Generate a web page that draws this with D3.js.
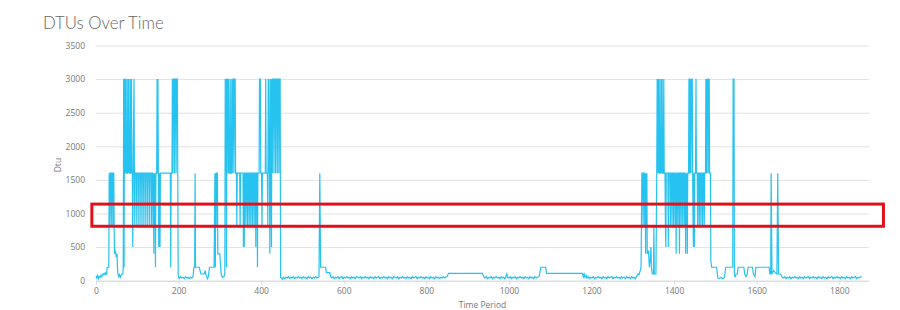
<!DOCTYPE html>
<html>
<head>
<meta charset="utf-8">
<script src="https://cdn.jsdelivr.net/npm/d3@7"></script>
<style>
  body { margin: 0; background: #fff; }
  #chart { font-family: "Open Sans", "Noto Sans", sans-serif; }
</style>
</head>
<body>
<div id="chart"></div>
<script>
// x ticks / y ticks
var xTicks = [0, 200, 400, 600, 800, 1000, 1200, 1400, 1600, 1800];
var yTicks = [0, 500, 1000, 1500, 2000, 2500, 3000, 3500];

// [time period, dtu] change points
var burstA = [
  [0,70],[2,40],[4,90],[6,30],[8,60],[10,50],[12,80],[14,60],[16,100],[18,90],[20,110],[22,90],[24,120],[26,100],[27,200],[31,200],
  [32,1600],[33,800],[34,1600],[36,1600],[37,800],[38,1600],[40,1600],[41,800],[42,1600],[43,1600],[44,800],
  [45,400],[47,450],[49,350],[51,400],[52,200],[53,100],[55,60],[57,90],[59,50],[61,80],[63,100],[65,100],
  [66,200],[67,3000],[68,200],[69,3000],[70,3000],[71,1600],[73,3000],[74,1600],[76,1600],[77,3000],[78,1600],[80,3000],[81,1600],
  [83,1600],[84,3000],[85,1600],[86,3000],[87,1600],[88,1600],[89,500],[90,1600],[92,3000],[93,1600],
  [94,800],[95,1600],[98,1600],[99,800],[100,1600],[103,1600],[104,800],[105,1600],[108,1600],[109,800],[110,1600],
  [113,1600],[114,800],[115,1600],[118,1600],[119,800],[120,1600],[123,1600],[124,800],[125,1600],[128,1600],[129,800],
  [130,1600],[133,1600],[134,800],[135,1600],[137,1600],[138,800],[139,1600],[140,400],[141,1600],[142,800],[143,1600],
  [144,200],[145,1600],[147,1600],[148,3000],[149,1600],
  [150,3000],[151,1600],[152,500],[153,1600],[155,500],[156,1600],[158,1600],[180,1600],[181,200],[182,1600],[184,1600],
  [185,3000],[186,1600],[187,3000],[189,3000],[190,1600],[191,3000],[193,3000],[194,1600],[195,3000],[197,3000],[198,1600],[199,100],
  [200,50],[202,30],[205,60],[208,40],[211,50],[214,30],[217,60],[220,40],[223,50],[226,30],[229,50],[232,40],[235,60],[237,200],
  [239,200],[240,1600],[241,200],[250,200],[252,150],[254,100],[262,100],[264,150],[266,100],[268,60],[270,30],[272,60],[275,200],
  [286,200],[288,1600],[289,200],[290,1600],[291,800],[292,1600],[294,1600],[295,400],[300,400],[303,100],[306,50],[310,60],[312,100],
  [313,3000],[314,1600],[315,3000],[316,200],[317,3000],[319,3000],[320,1600],[321,3000],[322,1600],[324,1600],[325,3000],[326,1600],
  [328,1600],[329,3000],[330,1600],[332,3000],[333,3000],[334,1600],[335,3000],[337,3000],[338,1600],[340,1600],[341,800],[342,1600],
  [348,1600],[349,800],[350,1600],[356,1600],[357,500],[358,1600],[359,500],[360,1600],[362,1600],[363,800],[364,1600],
  [366,1600],[367,800],[368,1600],[370,1600],[371,800],[372,1600],[374,1600],[375,800],[376,1600],[378,1600],[379,800],
  [380,1600],[382,1600],[383,800],[384,1600],[386,1600],[387,500],[388,1600],[390,1600],
  [391,200],[392,1600],[395,1600],[396,3000],[398,3000],[399,1600],[401,1600],[402,800],[403,1600],[410,1600],[411,3000],[412,1600],
  [415,1600],[416,800],[417,3000],[418,1600],[419,3000],[420,1600],[421,400],[422,1600],[423,3000],[424,1600],[425,500],[426,3000],
  [427,1600],[428,3000],[430,3000],[431,1600],[432,3000],[434,3000],[435,1600],[436,3000],[438,3000],[439,1600],[440,3000],[442,3000],
  [443,1600],[444,3000],[446,3000],[447,50]
];

var quietA = [
  [449,40],[451,20],[454,50],[457,30],[460,50],[463,40],[466,60],[469,30],[472,50],[475,40],[478,60],[481,30],[484,50],[487,40],
  [490,60],[493,40],[496,50],[499,30],[502,60],[505,40],[508,50],[511,30],[514,60],[517,40],[520,50],[523,30],[526,50],[529,40],
  [532,60],[535,40],[538,50],[540,60],[542,1600],[544,200],[556,200],[558,120],[566,120],[569,50],
  [571,40],[574,60],[577,30],[580,50],[583,40],[586,60],[589,30],[592,50],[595,60],[598,30],[601,50],[604,40],[607,60],[610,40],
  [613,50],[616,30],[619,60],[622,40],[625,50],[628,30],[631,60],[634,50],[637,40],[640,60],[643,30],[646,50],[649,40],[652,60],
  [655,40],[658,50],[661,30],[664,60],[667,40],[670,50],[673,30],[676,60],[679,40],[682,50],[685,60],[688,30],[691,50],[694,40],
  [697,60],[700,40],[703,50],[706,30],[709,60],[712,40],[715,50],[718,30],[721,60],[724,50],[727,40],[730,60],[733,30],[736,50],
  [739,40],[742,60],[745,40],[748,50],[751,30],[754,60],[757,40],[760,50],[763,30],[766,60],[769,40],[772,50],[775,60],[778,30],
  [781,50],[784,40],[787,60],[790,40],[793,50],[796,30],[799,60],[802,40],[805,50],[808,30],[811,60],[814,40],[817,50],[820,30],
  [823,60],[826,40],[829,50],[832,30],[835,50],[838,40],[841,60],[844,40],[847,50],[850,60],[854,110],[936,110],[939,60],
  [942,40],[945,60],[948,30],[951,50],[954,40],[957,60],[960,30],[963,50],[966,40],[969,60],[972,40],[975,50],[978,30],[981,60],
  [984,40],[987,50],[990,30],[993,60],[995,100],[997,50],[1000,40],[1003,60],[1006,30],[1009,50],[1012,40],[1015,60],[1018,30],
  [1021,50],[1024,40],[1027,60],[1030,40],[1033,50],[1036,30],[1039,60],[1042,40],[1045,50],[1048,30],[1051,60],[1054,40],[1057,50],
  [1060,30],[1063,60],[1066,40],[1069,50],[1072,60],[1074,80],[1077,200],[1089,200],[1091,110],[1178,110],[1180,60],[1182,100],
  [1184,50],[1187,80],[1189,40],[1192,60],[1195,30],[1198,50],[1201,40],[1204,60],[1207,30],[1210,50],[1213,40],[1216,60],[1219,40],
  [1222,50],[1225,30],[1228,60],[1231,40],[1234,50],[1237,30],[1240,60],[1243,40],[1246,50],[1249,60],[1252,30],[1255,50],[1258,40],
  [1261,60],[1264,40],[1267,50],[1270,30],[1273,60],[1276,40],[1279,50],[1282,30],[1285,60],[1288,40],[1291,50],[1294,30],[1297,60],
  [1300,40],[1303,50],[1306,30],[1309,60],[1312,100],[1315,90],[1318,150],[1320,200]
];

var burstB = [
  [1322,1600],[1324,1600],[1325,800],[1326,1600],[1328,1600],[1329,800],[1330,1600],[1331,400],[1332,1600],
  [1333,800],[1334,1600],[1335,400],[1338,450],[1340,200],[1342,300],[1344,500],[1345,200],[1347,100],[1350,100],[1351,800],
  [1352,100],[1356,100],[1358,1600],[1359,3000],[1360,1600],[1361,3000],[1362,1600],[1364,3000],[1365,1600],[1367,1600],[1368,3000],
  [1369,1600],[1371,3000],[1372,1600],[1374,1600],[1375,3000],[1376,1600],[1378,1600],[1379,800],[1380,500],[1381,1600],[1385,1600],
  [1386,500],[1387,1600],[1390,1600],[1391,800],[1392,1600],[1394,1600],[1395,800],[1396,1600],[1398,1600],[1399,800],
  [1400,1600],[1402,1600],[1403,800],[1404,1600],[1405,400],[1406,1600],[1408,1600],[1409,800],
  [1410,1600],[1412,1600],[1413,400],[1414,1600],[1416,1600],[1417,800],[1418,1600],[1420,1600],
  [1421,800],[1422,1600],[1424,1600],[1425,800],[1426,1600],[1427,1600],[1428,400],[1429,1600],[1430,800],[1431,1600],
  [1432,400],[1433,1600],[1435,1600],[1436,3000],[1437,3000],[1438,1600],[1440,3000],[1441,1600],[1442,3000],[1444,3000],[1445,1600],
  [1446,800],[1447,500],[1448,1600],[1449,500],[1450,1600],[1452,1600],[1453,3000],[1454,1600],[1456,1600],[1457,800],[1458,1600],
  [1460,1600],[1461,800],[1462,1600],[1464,1600],[1465,800],[1466,1600],[1468,1600],[1469,800],
  [1470,1600],[1472,1600],[1473,800],[1474,1600],[1476,1600],[1477,3000],[1478,1600],[1479,3000],[1480,1600],[1481,3000],[1483,3000],
  [1484,1600],[1485,3000],[1486,1600],[1488,1600],[1489,300],[1491,200],[1503,200]
];

var quietB = [
  [1506,40],[1510,30],[1514,50],[1518,30],[1522,50],[1525,200],[1542,200],[1543,3000],[1545,3000],[1546,100],[1548,50],[1550,100],
  [1553,100],[1555,200],[1569,200],[1571,100],[1574,60],[1577,100],[1579,200],[1590,200],[1592,100],[1596,60],[1598,200],[1630,200],
  [1632,100],[1634,100],[1635,1600],[1637,100],[1641,150],[1645,120],[1649,100],[1651,1600],[1653,100],[1658,100],[1662,50],
  [1665,40],[1668,60],[1671,30],[1674,50],[1677,40],[1680,60],[1683,30],[1686,50],[1689,40],[1692,60],[1695,40],[1698,50],[1701,30],
  [1704,60],[1707,40],[1710,50],[1713,30],[1716,60],[1719,40],[1722,50],[1725,60],[1728,30],[1731,50],[1734,40],[1737,60],[1740,40],
  [1743,50],[1746,30],[1749,60],[1752,40],[1755,50],[1758,30],[1761,60],[1764,40],[1767,50],[1770,30],[1773,60],[1776,40],[1779,50],
  [1782,60],[1785,30],[1788,50],[1791,40],[1794,60],[1797,40],[1800,50],[1803,30],[1806,60],[1809,40],[1812,50],[1815,30],[1818,60],
  [1821,40],[1824,50],[1827,30],[1830,60],[1833,40],[1836,50],[1839,60],[1842,30],[1845,50],[1848,40],[1851,60],[1854,50]
];

// highlighted band drawn over the chart (time range, dtu range)
var highlightBox = { x0: -10, x1: 1907, y0: 810, y1: 1140 };

var width = 900, height = 310;
var margin = { top: 45.5, right: 31, bottom: 29.3, left: 96 };

var svg = d3.select("#chart").append("svg")
    .attr("width", width)
    .attr("height", height);

var x = d3.scaleLinear()
    .domain([0, 1872])
    .range([margin.left, width - margin.right]);

var y = d3.scaleLinear()
    .domain([0, 3500])
    .range([height - margin.bottom, margin.top]);

// title
svg.append("text")
    .attr("x", 43)
    .attr("y", 29)
    .style("font-family", "Lato, 'Open Sans', sans-serif")
    .style("font-size", "16.8px")
    .style("font-weight", 300)
    .style("fill", "#666")
    .text("DTUs Over Time");

// y grid + labels
var yAxis = d3.axisLeft(y)
    .tickValues(yTicks)
    .tickFormat(d3.format("d"))
    .tickSize(-(x.range()[1] - x.range()[0]))
    .tickPadding(11);

var gy = svg.append("g")
    .attr("transform", `translate(${margin.left},0)`)
    .call(yAxis);
gy.select(".domain").remove();
gy.selectAll(".tick line").attr("stroke", "#e2e2e2");
gy.selectAll(".tick text")
    .style("font-size", "8.5px")
    .style("fill", "#777")
    .style("font-family", "'Open Sans', sans-serif");

// x axis
var xAxis = d3.axisBottom(x)
    .tickValues(xTicks)
    .tickFormat(d3.format("d"))
    .tickSize(4)
    .tickSizeOuter(0)
    .tickPadding(3);

var gx = svg.append("g")
    .attr("transform", `translate(0,${y(0)})`)
    .call(xAxis);
gx.select(".domain").attr("stroke", "#d4dbe3");
gx.selectAll(".tick line").attr("stroke", "#d4dbe3");
gx.selectAll(".tick text")
    .style("font-size", "8.5px")
    .style("fill", "#777")
    .style("font-family", "'Open Sans', sans-serif");

// axis titles
svg.append("text")
    .attr("transform", `translate(61,${(y(0) + y(3500)) / 2 + 2}) rotate(-90)`)
    .attr("text-anchor", "middle")
    .style("font-size", "8.5px")
    .style("fill", "#777")
    .text("Dtu");

svg.append("text")
    .attr("x", (x.range()[0] + x.range()[1]) / 2)
    .attr("y", 308)
    .attr("text-anchor", "middle")
    .style("font-size", "8.5px")
    .style("fill", "#777")
    .text("Time Period");

// the series
var series = burstA.concat(quietA, burstB, quietB);

var line = d3.line()
    .x(d => x(d[0]))
    .y(d => y(d[1]));

svg.append("path")
    .datum(series)
    .attr("fill", "none")
    .attr("stroke", "#26c2f0")
    .attr("stroke-width", 1.2)
    .attr("stroke-linejoin", "miter")
    .attr("d", line);

// red highlight box
svg.append("rect")
    .attr("x", x(highlightBox.x0))
    .attr("y", y(highlightBox.y1))
    .attr("width", x(highlightBox.x1) - x(highlightBox.x0))
    .attr("height", y(highlightBox.y0) - y(highlightBox.y1))
    .attr("fill", "none")
    .attr("stroke", "#e3101a")
    .attr("stroke-width", 3);
</script>
</body>
</html>
